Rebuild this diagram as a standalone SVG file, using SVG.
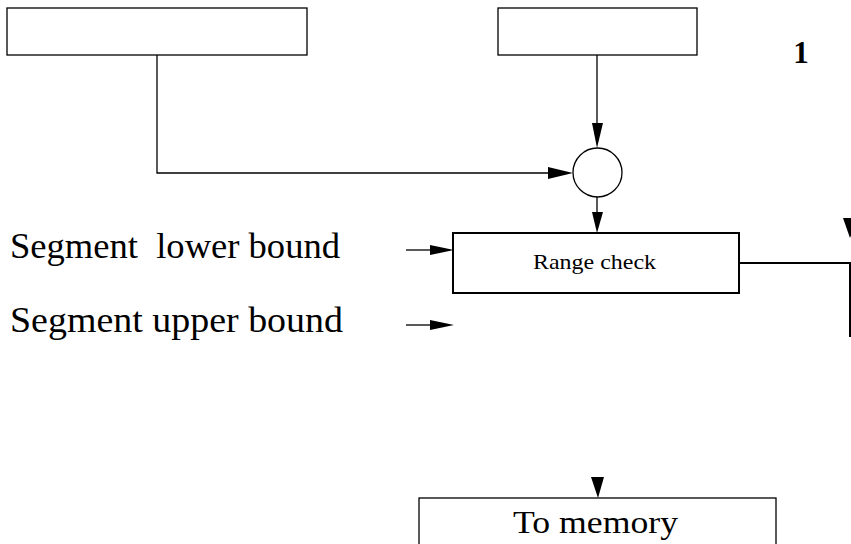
<svg xmlns="http://www.w3.org/2000/svg" width="851" height="544" viewBox="0 0 851 544">
<style>
.box{fill:#fff;stroke:#000;stroke-width:1.3}
.thick{fill:#fff;stroke:#000;stroke-width:2}
.ln{fill:none;stroke:#000;stroke-width:1.3}
.ah{fill:#000;stroke:none}
.t{font-family:"Liberation Serif","Times New Roman",serif;fill:#000}
</style>
<rect width="851" height="544" fill="#fff"/>
<g id="connectors">
<polyline class="ln" points="157,55 157,173 552,173"/>
<polygon class="ah" points="548,167 573,173 548,179"/>
<line class="ln" x1="597" y1="55" x2="597" y2="126"/>
<polygon class="ah" points="592,123 603,123 597,148"/>
<line class="ln" x1="597" y1="197" x2="597" y2="214"/>
<polygon class="ah" points="592,212 603,212 597,233"/>
<line class="ln" x1="406" y1="250" x2="432" y2="250"/>
<polygon class="ah" points="430,245 454,250 430,255"/>
<line class="ln" x1="406" y1="325" x2="432" y2="325"/>
<polygon class="ah" points="430,320 454,325 430,330"/>
<polyline fill="none" stroke="#000" stroke-width="2" points="739,263 850,263 850,337"/>
<polygon class="ah" points="843,218 857,218 850,238"/>
<polygon class="ah" points="591,477 604,477 598,498"/>
</g>
<g id="box1"><rect class="box" x="7" y="8" width="300" height="47"/></g>
<g id="box2"><rect class="box" x="498" y="8" width="199" height="47"/></g>
<g id="sum"><circle class="box" cx="597.5" cy="172.5" r="24.5"/></g>
<g id="label1"><text class="t" x="801" y="63" font-size="31" font-weight="bold" text-anchor="middle">1</text></g>
<g id="range"><rect class="thick" x="453" y="233" width="286" height="60"/>
<text class="t" x="533" y="269" font-size="21" textLength="123" lengthAdjust="spacingAndGlyphs">Range check</text></g>
<g id="lower"><text class="t" x="10" y="258" font-size="35" textLength="330" lengthAdjust="spacingAndGlyphs" xml:space="preserve">Segment  lower bound</text></g>
<g id="upper"><text class="t" x="10" y="332" font-size="35" textLength="333" lengthAdjust="spacingAndGlyphs">Segment upper bound</text></g>
<g id="memory"><rect class="box" x="419" y="498" width="357" height="60"/>
<text class="t" x="513" y="533" font-size="31" textLength="165" lengthAdjust="spacingAndGlyphs">To memory</text></g>
</svg>
